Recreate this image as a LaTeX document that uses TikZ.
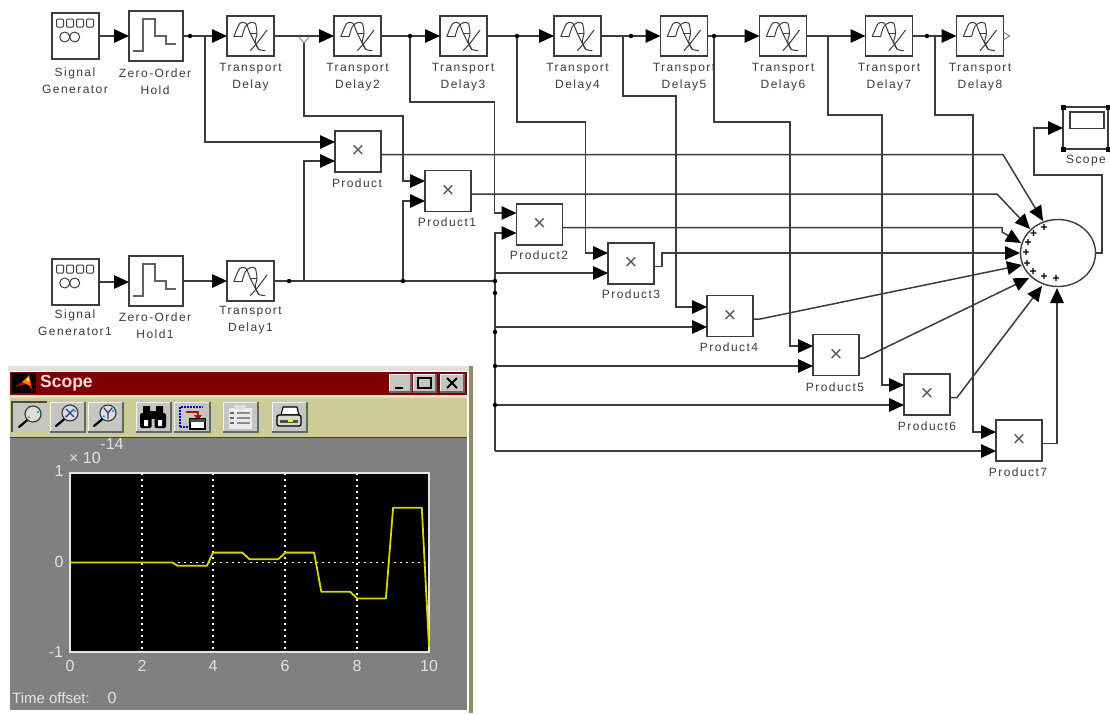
\documentclass[tikz,border=0pt]{standalone}
\usepackage{fontspec}
\setmainfont{Liberation Sans}
\newfontfamily\lblfont[LetterSpace=12]{Liberation Sans}
\usetikzlibrary{arrows.meta,shapes.geometric}
\definecolor{ink}{HTML}{3C3C3C}
\definecolor{khaki}{HTML}{CDCB96}
\definecolor{winred}{HTML}{7C0000}
\definecolor{wingray}{HTML}{808080}
\definecolor{btn}{HTML}{C6C6C0}
\definecolor{trace}{HTML}{D8D800}
\definecolor{axtext}{HTML}{E2E2E2}
\tikzset{
  x=1pt,y=-1pt,
  wire/.style={draw=ink,line width=1.5pt,line join=miter},
  arr/.style={wire,-{Triangle[length=15pt,width=13.5pt,fill=black,color=black]}},
  block/.style={draw=ink,fill=white,line width=1.5pt,rectangle,inner sep=0pt,outer sep=0pt},
  delaybox/.style={block,minimum width=47pt,minimum height=40pt},
  prodbox/.style={block,minimum width=46pt,minimum height=41pt,font=\fontsize{22}{22}\selectfont,text=ink!85},
  genbox/.style={block,minimum width=47pt,minimum height=46pt},
  zohbox/.style={block,minimum width=54pt,minimum height=50pt},
  lbl/.style={font=\lblfont\fontsize{12}{17}\selectfont,text=ink,align=center,inner sep=0pt},
  dot/.style={circle,fill=black,inner sep=0pt,minimum size=4.5pt},
  plusmark/.style={font=\bfseries\fontsize{12}{12}\selectfont,text=black,inner sep=0pt},
  axlab/.style={font=\fontsize{16}{16}\selectfont,text=axtext,inner sep=0pt},
  winbtn/.style={draw=white,fill=btn,line width=.8pt},
  toolbtn/.style={fill=btn},
  icon/.style={draw=ink,line width=1pt,line join=round},
  delayicon/.pic={
    \draw[icon] plot[smooth,tension=.45] coordinates {(6.7,20.7) (11.7,9) (14.3,6.7) (19,7.3) (23.3,17.3) (28.3,27.3) (31.7,33.3) (38.3,34.7)};
    \draw[icon] plot[smooth,tension=.45] coordinates {(15,20.7) (18.3,10.7) (23.3,6.7) (28.3,7.3) (30,17.3) (28.3,25.7) (31.7,33.3)};
    \draw[icon] (6.7,20.7) -- (15,20.7);
    \draw[icon] (23.3,17.3) -- (30,17.3);
    \draw[icon] (23.3,34.7) -- (30,27.3) -- (35,20.7) -- (40,14);
  },
  genicon/.pic={
    \foreach \q in {4.5,14.5,24.5,34.5}
      \draw[icon,rounded corners=1pt] (\q,6) rectangle ++(7,8);
    \draw[icon] (12.7,24) circle (5);
    \draw[icon] (22.7,24) circle (5);
  },
  zohicon/.pic={
    \draw[draw=ink!80,line width=1.4pt] (4,40) -- (14,40) -- (14,8) -- (26,8) -- (26,25) -- (37,25) -- (37,33) -- (47,33);
  },
  lens/.pic={
    \draw[black,line width=2.2pt,line cap=round] (-5.5,6) -- (-14,13);
    \draw[black!80,fill=btn!60!white,line width=1.1pt] (0,0) circle (8);
    \draw[cyan,line width=1.4pt] (-5,3) arc[start angle=150,end angle=60,radius=1.5];
    \draw[cyan,line width=1.4pt] (5,-3.5) arc[start angle=-30,end angle=30,radius=2];
  },
}
\newcommand{\toolbutton}[4]{%
  \fill[toolbtn] (#1,#2) rectangle (#3,#4);
  \draw[white!95!black,line width=1pt] (#1,#4) -- (#1,#2) -- (#3,#2);
  \draw[black!60,line width=1.4pt] (#1,#4) -- (#3,#4) -- (#3,#2);
}
\begin{document}
\begin{tikzpicture}
\useasboundingbox (0,0) rectangle (1110,713);
\fill[white] (0,0) rectangle (1110,713);

% ---------- scope window ----------
\fill[white!88!black] (8,366) rectangle (469,371);
\fill[khaki!70!black] (469,366) rectangle (473,713);
\fill[winred] (10,372) rectangle (467,395);
\fill[khaki!60!white] (10,395) rectangle (467,398);
\fill[khaki] (10,398) rectangle (467,437);
\fill[wingray] (10,438) rectangle (467,710);
\draw[black!75,line width=1.4pt] (10,437.5) -- (467,437.5);
% title bar
\fill[black] (12,373) rectangle (36,393);
\fill[red!80!black] (15,387) -- (24,381) -- (29,374) -- (33,391) -- (27,384) -- cycle;
\fill[orange] (22,382) -- (29,376) -- (31,386) -- cycle;
\fill[yellow] (26,379) -- (29,377) -- (29,382) -- cycle;
\node[font=\bfseries\fontsize{17.5}{17.5}\selectfont,text=white!85!red,anchor=west,inner sep=0pt] (wintitle) at (40,383) {Scope};
\toolbutton{389}{374}{411}{392}
\toolbutton{413}{374}{436}{392}
\toolbutton{440}{374}{464}{392}
\draw[black,line width=2pt] (395,388) -- (403,388);
\draw[black,line width=1.2pt] (418,378) rectangle (431,388);
\draw[black,line width=2pt] (418,378) -- (431,378);
\draw[black,line width=2pt] (447,378) -- (457,388) (457,378) -- (447,388);
% toolbar
\fill[btn] (12,402) rectangle (47,432);
\draw[black!70,line width=1.4pt] (12,432) -- (12,402) -- (47,402);
\toolbutton{50}{402}{85}{432}
\toolbutton{88}{402}{123}{432}
\toolbutton{136}{402}{171}{432}
\toolbutton{174}{402}{210}{432}
\toolbutton{223}{402}{258}{432}
\toolbutton{272}{402}{307}{432}
\pic at (33,414) {lens};
\pic at (70,413) {lens};
\draw[blue!55!black!80,line width=1.2pt] (66,409) -- (74,417) (74,409) -- (66,417);
\pic at (108,413) {lens};
\draw[blue!55!black!80,line width=1.2pt] (104,408) -- (108,413) -- (112,408) (108,413) -- (108,419);
% binoculars
\fill[black] (143,406) rectangle (150,413) (156,406) rectangle (163,413);
\fill[black,rounded corners=1.5pt] (140,413) rectangle (151.5,428) (154.5,413) rectangle (166,428);
\fill[black] (150,411) rectangle (156,419);
\fill[white] (144,420) rectangle (148,426) (158,420) rectangle (162,426);
% autoscale / save axes
\draw[blue!70!black,line width=1.6pt,dash pattern=on 2pt off 1pt] (180,427) -- (180,407) -- (203,407);
\draw[blue!70!black,line width=1.6pt,dash pattern=on 2pt off 1pt] (180,427) -- (190,427);
\draw[red!75!black,line width=1.4pt] (186,412) -- (198,412) -- (198,417);
\fill[red!75!black] (194,415) -- (202,415) -- (198,420) -- cycle;
\draw[black,fill=white,line width=1.3pt] (190,419) rectangle (205,429);
\fill[black!70] (190,419) rectangle (205,422);
% properties
\fill[white!92!black] (229,408) rectangle (252,429);
\fill[btn!60!white] (234,405) rectangle (246,409);
\foreach \ly in {413,418,423}{
  \draw[black!60,line width=1.2pt] (230,\ly) -- (234,\ly);
  \draw[black!45,line width=1.2pt] (237,\ly) -- (250,\ly);
}
% printer
\draw[black,fill=white,line width=1.1pt] (283,407) -- (297,407) -- (299,415) -- (281,415) -- cycle;
\draw[black,fill=btn!70!white,line width=1.4pt,rounded corners=2pt] (277,415) rectangle (301,426);
\fill[black!70] (280,420) rectangle (298,423);
\fill[yellow] (288,420) rectangle (293,422);
% axes
\fill[black] (70,473) rectangle (429,652);
\foreach \gx in {142,213,285,357}
  \draw[white,line width=1.5pt,dash pattern=on 1.8pt off 4.2pt] (\gx,473) -- (\gx,652);
\draw[white,line width=1.5pt,dash pattern=on 1.8pt off 4.2pt] (70,562.5) -- (429,562.5);
\draw[white!90!black,line width=1.2pt] (70,473) rectangle (429,652);
\draw[trace,line width=1.8pt,line join=round] (70,562.5) -- (172.3,562.5) -- (177.7,565.8) -- (207,565.8) -- (213,552.6) -- (242.3,552.6) -- (249.5,559.2) -- (278.2,559.2) -- (285.4,552.6) -- (314.1,552.6) -- (321.3,591.7) -- (350,591.7) -- (357.2,598.5) -- (385.9,598.5) -- (393.1,507.7) -- (421.8,507.7) -- (429,647);
\node[axlab] (y1) at (59,471) {1};
\node[axlab] (y0) at (59,562) {0};
\node[axlab] (ym) at (56,652) {-1};
\node[axlab] (x0) at (70,666) {0};
\node[axlab] (x2) at (142,666) {2};
\node[axlab] (x4) at (213,666) {4};
\node[axlab] (x6) at (285,666) {6};
\node[axlab] (x8) at (357,666) {8};
\node[axlab] (x10) at (429,666) {10};
\node[axlab] (mult) at (85,458) {× 10};
\node[axlab] (expo) at (112,444) {-14};
\node[axlab,anchor=west,font=\fontsize{15}{15}\selectfont] (offs) at (12,698) {Time offset:};
\node[axlab] (offv) at (112,698) {0};

% ---------- blocks ----------
\node[genbox] (gen) at (75.5,36) {};
\node[zohbox] (zoh) at (156,36) {};
\node[genbox] (gen1) at (75.5,282) {};
\node[zohbox] (zoh1) at (156,281) {};
\foreach \nm/\cx/\cy in {td/250.5/36,td2/357.5/36,td3/463.5/36,td4/577.5/36,td5/684/36,td6/783/36,td7/889/36,td8/980/36,td1/250.5/281}
  \node[delaybox] (\nm) at (\cx,\cy) {};
\foreach \nm/\cx/\cy in {p0/358/151.5,p1/448/191,p2/539.5/224.5,p3/631/263.5,p4/730/316,p5/836/355,p6/927/394.5,p7/1019/440.5}
  \node[prodbox] (\nm) at (\cx,\cy) {×};
\node[ellipse,draw=ink,fill=white,line width=1.4pt,minimum width=75pt,minimum height=67pt,inner sep=0pt,outer sep=0pt] (sum) at (1058,253) {};
\node[block,minimum width=45pt,minimum height=42pt] (scope) at (1085.5,128) {};
\draw[ink,fill=white,line width=1.3pt] (1070,112) rectangle (1104,128.5);
\foreach \hx in {1063,1108} \foreach \hy in {107,149}
  \fill[black] (\hx-2.5,\hy-2.5) rectangle (\hx+2.5,\hy+2.5);

\pic at (gen.north west) {genicon};
\pic at (gen1.north west) {genicon};
\pic at (zoh.north west) {zohicon};
\pic at (zoh1.north west) {zohicon};
\foreach \nm in {td,td2,td3,td4,td5,td6,td7,td8,td1}
  \pic at (\nm.north west) {delayicon};

% ---------- labels ----------
\node[lbl] (lgen) at (75,80.5) {Signal\\Generator};
\node[lbl] (lzoh) at (155,81.5) {Zero-Order\\Hold};
\node[lbl] (lgen1) at (75,323) {Signal\\Generator1};
\node[lbl] (lzoh1) at (155,325.5) {Zero-Order\\Hold1};
\foreach \nm/\cx/\tx in {ltd/250.5/Delay,ltd2/357.5/Delay2,ltd3/463/Delay3,ltd4/577.5/Delay4,ltd5/684/Delay5,ltd6/783/Delay6,ltd7/889/Delay7,ltd8/980/Delay8}
  \node[lbl] (\nm) at (\cx,77) {Transport\\\tx};
\node[lbl] (ltd1) at (250.5,320.5) {Transport\\Delay1};
\foreach \nm/\cx/\cy/\tx in {lp0/357/183/Product,lp1/447/222/Product1,lp2/539/255/Product2,lp3/631/294/Product3,lp4/729/347/Product4,lp5/835/387/Product5,lp6/927/426/Product6,lp7/1018/472/Product7}
  \node[lbl] (\nm) at (\cx,\cy) {\tx};
\node[lbl] (lscope) at (1086,161) {Scope};

% ---------- ports and junctions ----------
\coordinate (p0a) at (335,142);   \coordinate (p0b) at (335,161);
\coordinate (p1a) at (425,181);   \coordinate (p1b) at (425,201);
\coordinate (p2a) at (516.5,213); \coordinate (p2b) at (516.5,233);
\coordinate (p3a) at (608,253);   \coordinate (p3b) at (608,273);
\coordinate (p4a) at (707,307);   \coordinate (p4b) at (707,327);
\coordinate (p5a) at (813,346);   \coordinate (p5b) at (813,366);
\coordinate (p6a) at (904,385);   \coordinate (p6b) at (904,405);
\coordinate (p7a) at (996,432);   \coordinate (p7b) at (996,451);
\coordinate (scin) at (1063,128);
\coordinate (s0) at (1043,221);   \coordinate (s1) at (1030,229);
\coordinate (s2) at (1021,243);   \coordinate (s3) at (1020,253);
\coordinate (s4) at (1022,265);   \coordinate (s5) at (1029,278);
\coordinate (s6) at (1042,286);   \coordinate (s7) at (1057,288);
\coordinate (b0) at (205,36);  \coordinate (b1) at (304,43);
\coordinate (b2) at (410,36);  \coordinate (b3) at (517,36);
\coordinate (b4) at (623,36);  \coordinate (b5) at (714,36);
\coordinate (b6) at (828,36);  \coordinate (b7) at (935,36);
\coordinate (c0) at (304,281); \coordinate (c1) at (403,281);
\coordinate (c2) at (495,281);

% ---------- wires ----------
\draw[arr] (gen.east) -- (zoh.west);
\draw[arr] (zoh.east) -- (td.west);
\draw[arr] (td.east) -- (td2.west);
\draw[arr] (td2.east) -- (td3.west);
\draw[arr] (td3.east) -- (td4.west);
\draw[arr] (td4.east) -- (td5.west);
\draw[arr] (td5.east) -- (td6.west);
\draw[arr] (td6.east) -- (td7.west);
\draw[arr] (td7.east) -- (td8.west);
\draw[draw=ink!60,line width=1pt] (td8.east) ++(0,-4) -- ++(6,4) -- ++(-6,4);
\draw[arr] (gen1.east) -- (gen1.east -| zoh1.west);
\draw[arr] (zoh1.east) -- (td1.west);
\draw[wire] (td1.east) -- (c2);
\draw[draw=ink!60,line width=1pt] (299,37) -- (b1) -- (309,37);

\draw[arr] (b0) |- (p0a);
\draw[arr] (b1) |- (403,116) |- (p1a);
\draw[arr] (b2) |- (494.5,102) |- (p2a);
\draw[arr] (b3) |- (585.5,122) |- (p3a);
\draw[arr] (b4) |- (676,96) |- (p4a);
\draw[arr] (b5) |- (790,122) |- (p5a);
\draw[arr] (b6) |- (882,115) |- (p6a);
\draw[arr] (b7) |- (973,115) |- (p7a);

\draw[arr] (c0) |- (p0b);
\draw[arr] (c1) |- (p1b);
\draw[arr] (495,451) -- (495,233) -- (p2b);
\draw[arr] (495,273) -- (p3b);
\draw[arr] (495,327) -- (p4b);
\draw[arr] (495,366) -- (p5b);
\draw[arr] (495,405) -- (p6b);
\draw[arr] (495,451) -- (p7b);

\draw[arr] ([yshift=-3pt]p0.east) -- (1003,154.5) -- (s0);
\draw[arr] ([yshift=-3pt]p1.east) -- (997,194) -- (s1);
\draw[arr] ([yshift=-3pt]p2.east) -- (1002,227.5) -- (1002,232) -- (s2);
\draw[arr] ([yshift=-3pt]p3.east) -- (662,266.5) -- (662,253) -- (s3);
\draw[arr] ([yshift=-3pt]p4.east) -- (760,319) -- (s4);
\draw[arr] ([yshift=-3pt]p5.east) -- (864,358) -- (s5);
\draw[arr] ([yshift=-3pt]p6.east) -- (957,397.5) -- (s6);
\draw[arr] ([yshift=-3pt]p7.east) -| (s7);
\draw[arr] (sum.east) -- (1102,253) |- (1034,175) |- (scin);

% ---------- junction dots ----------
\foreach \nm/\dx/\dy in {d0/190/36,d1/410/36,d2/517/36,d3/631/36,d4/714/36,d5/927/36,d6/289/281,d7/403/281,d8/495/281,d9/495/293,d10/495/332,d11/495/366,d12/495/405}
  \node[dot] (\nm) at (\dx,\dy) {};

% ---------- sum signs ----------
\foreach \nm/\sx/\sy in {m0/1044/228,m1/1033.5/234,m2/1028/243,m3/1026/253,m4/1027/264,m5/1033/272,m6/1044/277,m7/1056/279}
  \node[plusmark] (\nm) at (\sx,\sy) {+};
\end{tikzpicture}
\end{document}
